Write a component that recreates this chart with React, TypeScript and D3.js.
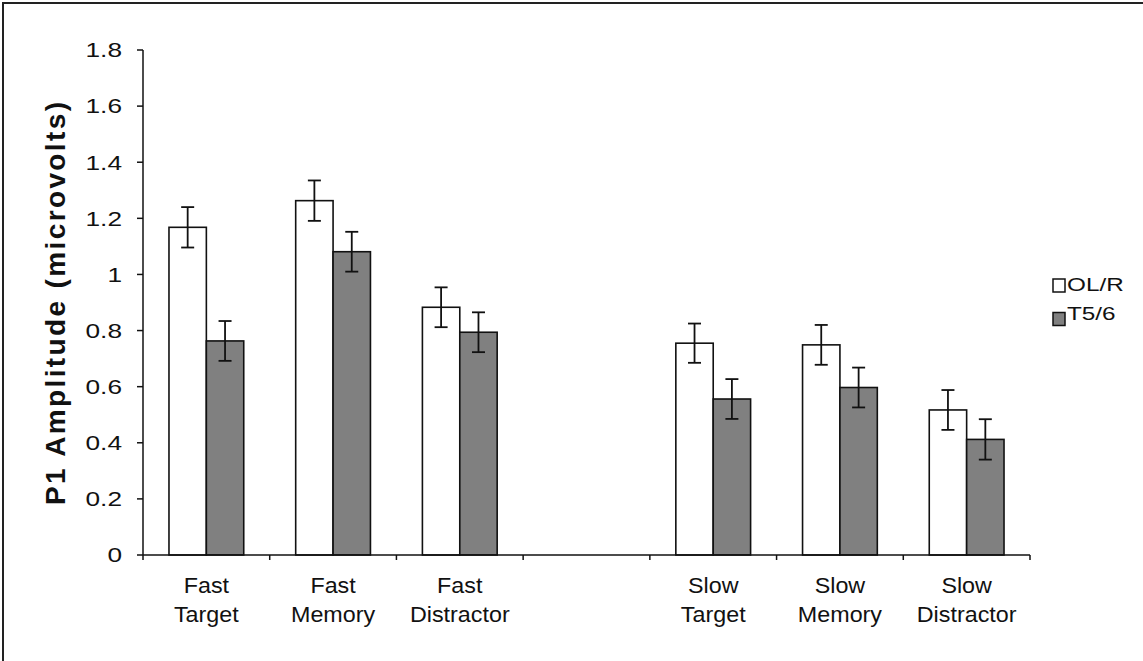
import React from "react";
import * as d3 from "d3";

const categories = ["Fast|Target", "Fast|Memory", "Fast|Distractor", "", "Slow|Target", "Slow|Memory", "Slow|Distractor"];
const seriesNames = ["OL/R", "T5/6"];
const olrValues = [1.168, 1.263, 0.883, null, 0.755, 0.749, 0.517];
const t56Values = [0.763, 1.081, 0.794, null, 0.556, 0.597, 0.412];
const olrErrors = [0.072, 0.072, 0.071, null, 0.07, 0.071, 0.071];
const t56Errors = [0.071, 0.071, 0.071, null, 0.071, 0.071, 0.072];
const yTicks = [0, 0.2, 0.4, 0.6, 0.8, 1, 1.2, 1.4, 1.6, 1.8];

const W = 1143;
const H = 661;
const fillColors = ["#ffffff", "#808080"];

export default function App() {
  const x0 = 143, x1 = 1030, yBottom = 555, yTop = 50;
  const x = d3.scaleBand<number>().domain(categories.map((_, i) => i)).range([x0, x1]).paddingInner(0.41).paddingOuter(0.205);
  const xInner = d3.scaleBand<number>().domain([0, 1]).range([0, x.bandwidth()]);
  const y = d3.scaleLinear().domain([0, 1.8]).range([yBottom, yTop]);
  const step = (x1 - x0) / categories.length;
  const font = "Liberation Sans, Arial, Helvetica, sans-serif";
  const series = [
    { vals: olrValues, errs: olrErrors },
    { vals: t56Values, errs: t56Errors },
  ];
  return (
    <svg width={W} height={H} style={{ position: "absolute", left: 0, top: 0, background: "#fff" }} fontFamily={font}>
      <rect x={3} y={3} width={W + 10} height={H + 10} fill="none" stroke="#222" strokeWidth={2} />
      {/* bars */}
      {series.map((s, si) =>
        s.vals.map((v, i) => {
          if (v == null) return null;
          const bx = (x(i) as number) + (xInner(si) as number);
          const bw = xInner.bandwidth();
          const cx = bx + bw / 2;
          const e = s.errs[i] as number;
          return (
            <g key={`${si}-${i}`}>
              <rect x={bx} y={y(v)} width={bw} height={y(0) - y(v)} fill={fillColors[si]} stroke="#111" strokeWidth={1.6} />
              <line x1={cx} x2={cx} y1={y(v + e)} y2={y(v - e)} stroke="#111" strokeWidth={1.8} />
              <line x1={cx - 6.5} x2={cx + 6.5} y1={y(v + e)} y2={y(v + e)} stroke="#111" strokeWidth={1.8} />
              <line x1={cx - 6.5} x2={cx + 6.5} y1={y(v - e)} y2={y(v - e)} stroke="#111" strokeWidth={1.8} />
            </g>
          );
        })
      )}
      {/* y axis */}
      <line x1={x0} x2={x0} y1={yTop} y2={yBottom} stroke="#111" strokeWidth={1.5} />
      {yTicks.map((t) => (
        <g key={t}>
          <line x1={x0 - 6} x2={x0} y1={y(t)} y2={y(t)} stroke="#111" strokeWidth={1.5} />
          <g transform={`translate(${x0 - 21}, ${y(t)}) scale(1.25, 1)`}>
            <text dy="0.35em" textAnchor="end" fontSize={21} fill="#111">
              {String(t)}
            </text>
          </g>
        </g>
      ))}
      {/* x axis */}
      <line x1={x0} x2={x1} y1={yBottom} y2={yBottom} stroke="#111" strokeWidth={1.5} />
      {d3.range(categories.length + 1).map((i) => (
        <line key={i} x1={x0 + i * step} x2={x0 + i * step} y1={yBottom} y2={yBottom + 5} stroke="#111" strokeWidth={1.5} />
      ))}
      {categories.map((c, i) => {
        if (!c) return null;
        const [a, b] = c.split("|");
        const cx = (x(i) as number) + x.bandwidth() / 2;
        return (
          <g key={i} transform={`translate(${cx}, 0) scale(1.06, 1)`}>
            <text textAnchor="middle" fontSize={22} fill="#111">
              <tspan x={0} y={593}>{a}</tspan>
              <tspan x={0} y={622}>{b}</tspan>
            </text>
          </g>
        );
      })}
      {/* y label */}
      <text
        transform={`translate(65, 303.5) rotate(-90)`}
        textAnchor="middle"
        fontSize={28}
        fontWeight="bold"
        fill="#111"
        textLength={403}
        lengthAdjust="spacing"
      >
        P1 Amplitude (microvolts)
      </text>
      {/* legend */}
      {seriesNames.map((n, i) => (
        <g key={n}>
          <rect x={1053} y={279 + i * 33.5} width={12} height={13} fill={fillColors[i]} stroke="#111" strokeWidth={1.5} />
          <g transform={`translate(1067, ${291 + i * 29}) scale(1.35, 1)`}>
            <text fontSize={18} fill="#111">{n}</text>
          </g>
        </g>
      ))}
    </svg>
  );
}
